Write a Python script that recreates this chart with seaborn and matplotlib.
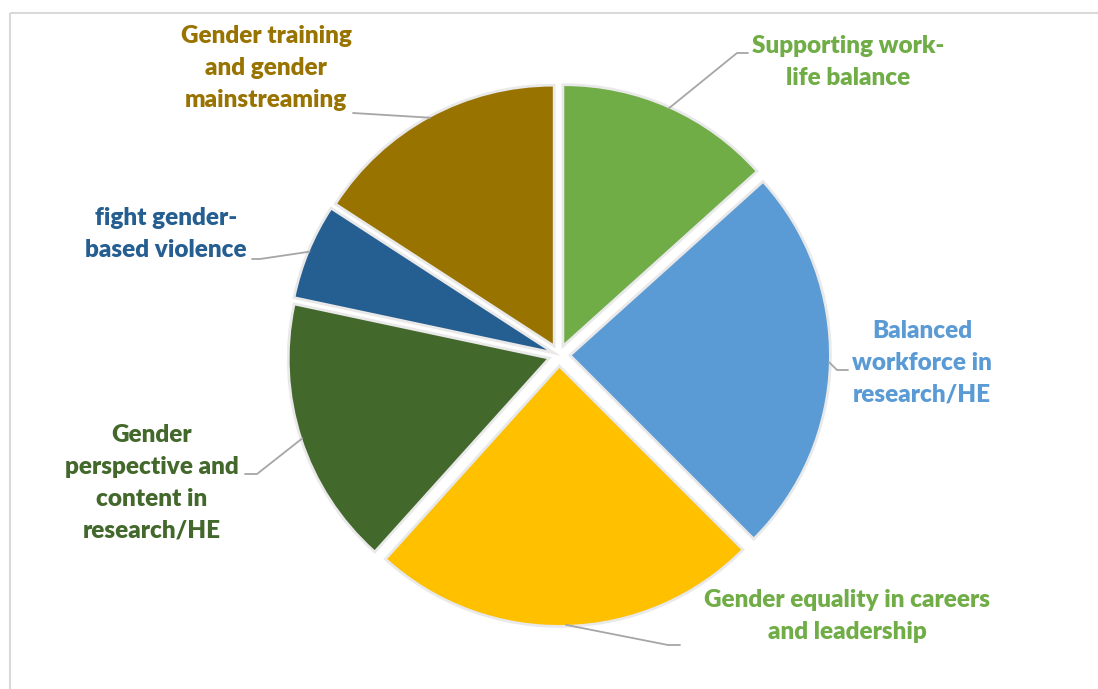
import matplotlib
matplotlib.use("Agg")
import matplotlib.pyplot as plt
from matplotlib.patches import Rectangle
import seaborn as sns
import numpy as np

# Dados
categorias = ["Supporting work-\nlife balance",
              "Balanced\nworkforce in\nresearch/HE",
              "Gender equality in careers\nand leadership",
              "Gender\nperspective and\ncontent in\nresearch/HE",
              "fight gender-\nbased violence",
              "Gender training\nand gender\nmainstreaming"]
valores = [16, 29, 29, 20, 7, 19]
cores = ["#70AD47", "#5B9BD5", "#FFC000", "#43682B", "#255E91", "#997300"]
coresTexto = ["#70AD47", "#5B9BD5", "#70AD47", "#43682B", "#255E91", "#997300"]

# Posições das etiquetas (cotovelo da linha, fim da linha, centro do texto)
cotovelos = [(737, 53), (837, 370), (668, 645), (257, 474), (260, 259), (353, 113)]
fins = [(748, 53), (848, 370), (680, 645), (245, 474), (252, 259), (353, 113)]
textos = [(848, 62), (922, 363), (847, 616), (152, 483), (166, 234), (266, 68)]

sns.set_theme(style="white")
plt.rcParams['font.family'] = ['Lato', 'DejaVu Sans']

fig = plt.figure(figsize=(10.98, 6.89), dpi=100)
ax = fig.add_axes([0, 0, 1, 1])

centro = (559, 355)
raio = 257
explode = [13] * len(valores)

# sombra suave
ax.pie(valores, colors=["#d4d4d4"] * len(valores), startangle=-90, counterclock=True,
       explode=explode, center=centro, radius=raio, frame=True,
       wedgeprops=dict(edgecolor="#d4d4d4", linewidth=4, alpha=0.5))
wedges, _ = ax.pie(valores, colors=cores, startangle=-90, counterclock=True,
                   explode=explode, center=centro, radius=raio, frame=True,
                   wedgeprops=dict(edgecolor="none"))

ax.set_xlim(0, 1098)
ax.set_ylim(689, 0)
ax.set_aspect('equal')
ax.axis('off')

for w, cot, fim, pos, txt, cor in zip(wedges, cotovelos, fins, textos, categorias, coresTexto):
    ang = np.deg2rad((w.theta1 + w.theta2) / 2)
    cx, cy = w.center
    x0 = cx + w.r * np.cos(ang)
    y0 = cy + w.r * np.sin(ang)
    ax.plot([x0, cot[0], fim[0]], [y0, cot[1], fim[1]], color="#a6a6a6", lw=1.3)
    ax.text(pos[0], pos[1], txt, color=cor, fontsize=17.5, fontweight='heavy',
            ha='center', va='center', linespacing=1.55)

ax.add_patch(Rectangle((9.5, 12.5), 1200, 1000, fill=False, edgecolor="#d9d9d9", lw=1.5))

fig.savefig("out.png", dpi=100)
